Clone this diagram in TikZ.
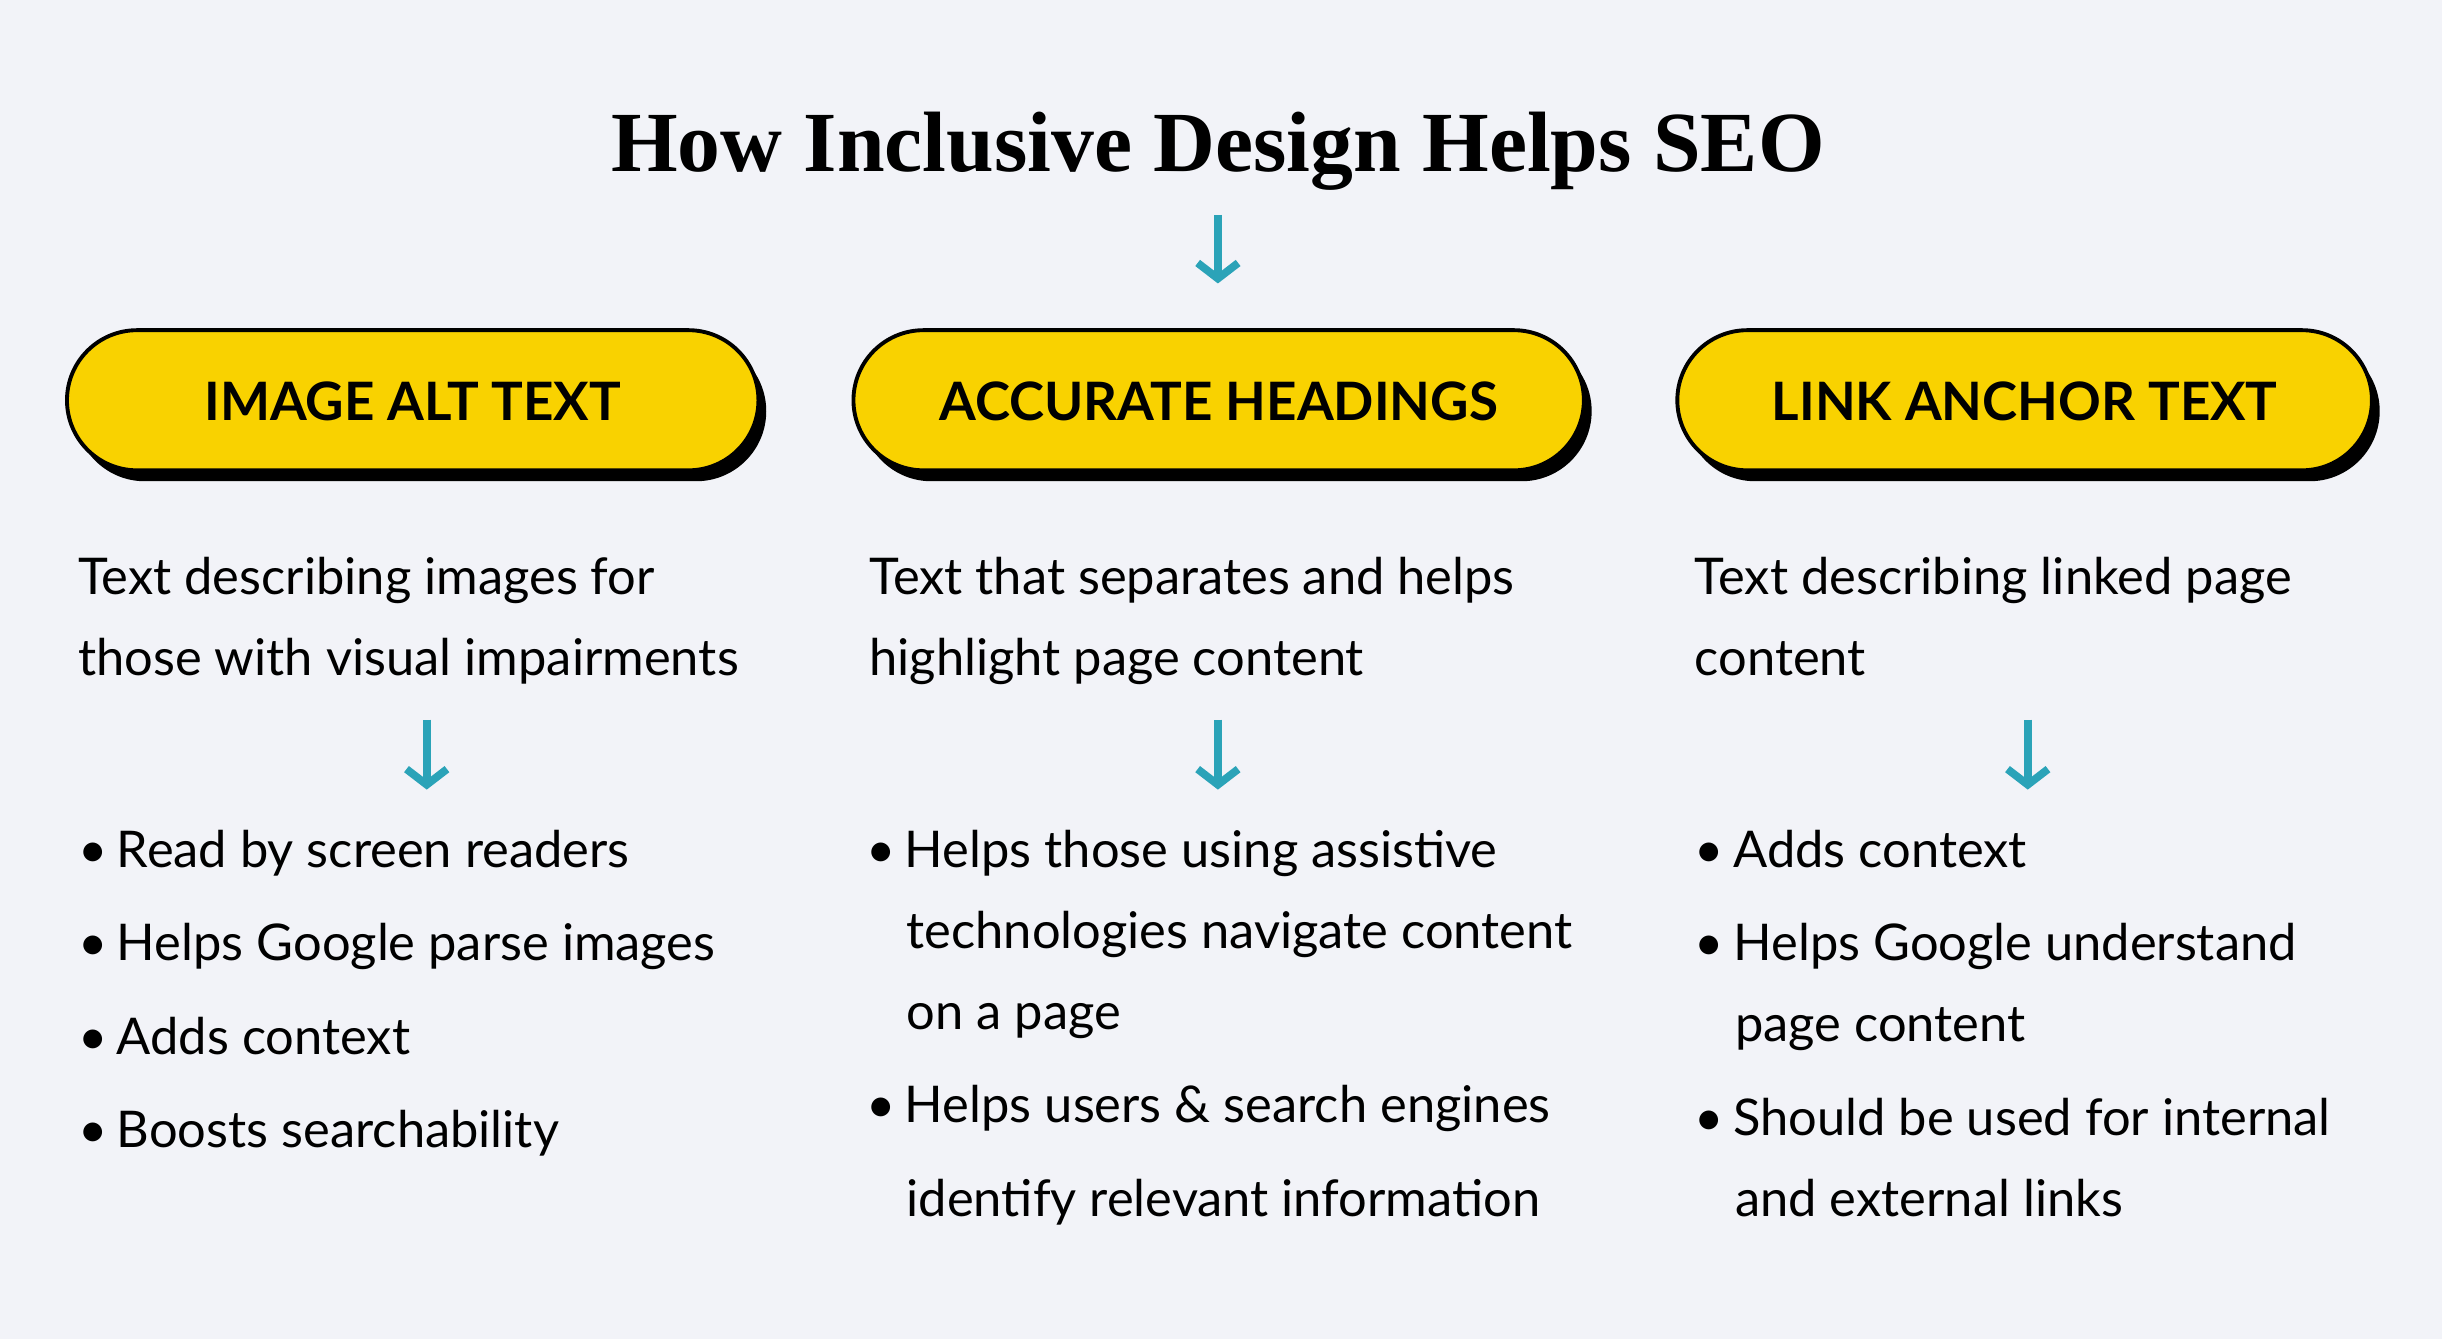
\documentclass[tikz,border=0pt]{standalone}
\usepackage{fontspec}
\setmainfont{Lato}
\newfontfamily\titlefont{Liberation Serif}
\usetikzlibrary{arrows.meta}
\definecolor{bgcol}{HTML}{F2F3F8}
\definecolor{pillcol}{HTML}{F9D200}
\definecolor{arrcol}{HTML}{2BA3B8}
\tikzset{
  pill/.style={rounded corners=45pt,fill=pillcol,draw=black,line width=2.5pt},
  shadowpill/.style={rounded corners=45pt,fill=black},
  pilltext/.style={font=\fontsize{34}{34}\selectfont\bfseries},
  bodytext/.style={anchor=base west,inner sep=0pt,font=\fontsize{32.5}{32.5}\selectfont},
  downarrow/.style={draw=arrcol,line width=5pt,-{Straight Barb[length=10pt,width=26pt,line width=5pt]}}
}
\newcommand{\bul}{\textbullet\hspace{6pt}}
\begin{document}
\begin{tikzpicture}[x=1pt,y=-1pt]
  \fill[bgcol] (0,0) rectangle (1568,860);
  \useasboundingbox (0,0) rectangle (1568,860);
  \node[font=\titlefont\fontsize{55}{55}\selectfont\bfseries] (title) at (782,97) {How Inclusive Design Helps SEO};
  \coordinate (tarrowtop) at (782,138);
  \coordinate (tarrowbot) at (782,182);
  \draw[downarrow] (tarrowtop) -- (tarrowbot);
  % pills
  \foreach \l/\r/\name/\txt in {43/487/alt/IMAGE ALT TEXT,548/1017/head/ACCURATE HEADINGS,1077/1523/link/LINK ANCHOR TEXT}{
    \fill[shadowpill] (\l+5,219) rectangle (\r+5,309);
    \draw[pill] (\l,212) rectangle (\r,302);
    \node[pilltext] (\name) at ({(\l+\r)/2},258) {\txt};
  }
  % descriptions
  \node[bodytext] (altdesc) at (50,382) {Text describing images for};
  \node[bodytext] (altdesc2) at (50,434) {those with visual impairments};
  \node[bodytext] (headdesc) at (558,382) {Text that separates and helps};
  \node[bodytext] (headdesc2) at (558,434) {highlight page content};
  \node[bodytext] (linkdesc) at (1088,382) {Text describing linked page};
  \node[bodytext] (linkdesc2) at (1088,434) {content};
  % arrows
  \foreach \x in {274,782,1302}{
    \coordinate (a\x) at (\x,462);
    \coordinate (b\x) at (\x,507);
    \draw[downarrow] (a\x) -- (b\x);
  }
  % bullets
  \node[bodytext] (alt1) at (50,557) {\bul Read by screen readers};
  \node[bodytext] (alt2) at (50,617) {\bul Helps Google parse images};
  \node[bodytext] (alt3) at (50,677) {\bul Adds context};
  \node[bodytext] (alt4) at (50,737) {\bul Boosts searchability};
  \node[bodytext] (head1) at (556,557) {\bul Helps those using assistive};
  \node[bodytext] (head1b) at (582,609) {technologies navigate content};
  \node[bodytext] (head1c) at (582,661) {on a page};
  \node[bodytext] (head2) at (556,721) {\bul Helps users \& search engines};
  \node[bodytext] (head2b) at (582,781) {identify relevant information};
  \node[bodytext] (link1) at (1088,557) {\bul Adds context};
  \node[bodytext] (link2) at (1088,617) {\bul Helps Google understand};
  \node[bodytext] (link2b) at (1114,669) {page content};
  \node[bodytext] (link3) at (1088,729) {\bul Should be used for internal};
  \node[bodytext] (link3b) at (1114,781) {and external links};
\end{tikzpicture}
\end{document}
